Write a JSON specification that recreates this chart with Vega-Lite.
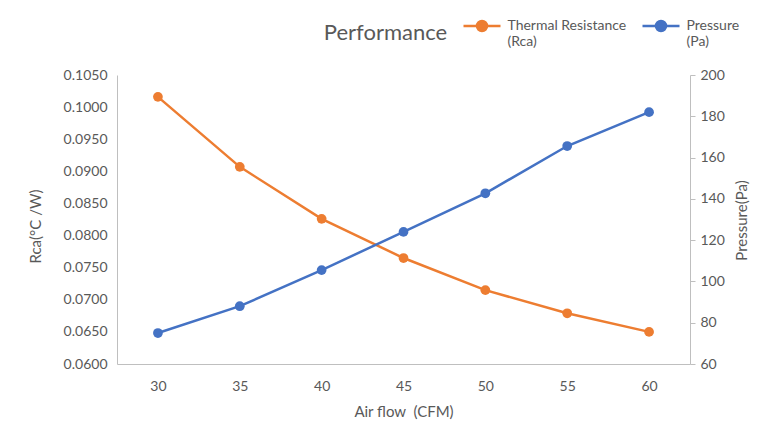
{
  "$schema": "https://vega.github.io/schema/vega-lite/v6.json",
  "width": 573,
  "height": 289,
  "autosize": {"type": "none"},
  "padding": {"left": 117, "top": 75, "right": 84, "bottom": 72},
  "background": "white",
  "config": {
    "font": "Lato",
    "view": {"stroke": null},
    "axis": {"labelColor": "#595959", "titleColor": "#595959", "labelFont": "Lato", "titleFont": "Lato", "labelFontSize": 14, "titleFontSize": 15, "titleFontWeight": "normal", "domainColor": "#BFBFBF", "tickColor": "#BFBFBF", "grid": false},
    "legend": {"labelFont": "Lato", "labelFontSize": 14, "labelColor": "#595959"}
  },
  "title": {"text": "Performance", "fontSize": 22, "fontWeight": "normal", "color": "#595959", "font": "Lato", "anchor": "middle", "dx": -18, "offset": 0, "dy": 26},
  "data": {
    "values": [
      {"airflow": 30, "series": "Thermal Resistance (Rca)", "value": 0.1016},
      {"airflow": 35, "series": "Thermal Resistance (Rca)", "value": 0.0907},
      {"airflow": 40, "series": "Thermal Resistance (Rca)", "value": 0.0826},
      {"airflow": 45, "series": "Thermal Resistance (Rca)", "value": 0.0765},
      {"airflow": 50, "series": "Thermal Resistance (Rca)", "value": 0.0715},
      {"airflow": 55, "series": "Thermal Resistance (Rca)", "value": 0.0679},
      {"airflow": 60, "series": "Thermal Resistance (Rca)", "value": 0.0650},
      {"airflow": 30, "series": "Pressure (Pa)", "value": 75},
      {"airflow": 35, "series": "Pressure (Pa)", "value": 88},
      {"airflow": 40, "series": "Pressure (Pa)", "value": 105.5},
      {"airflow": 45, "series": "Pressure (Pa)", "value": 124},
      {"airflow": 50, "series": "Pressure (Pa)", "value": 142.7},
      {"airflow": 55, "series": "Pressure (Pa)", "value": 165.6},
      {"airflow": 60, "series": "Pressure (Pa)", "value": 182}
    ]
  },
  "encoding": {
    "x": {"field": "airflow", "type": "ordinal", "scale": {"type": "point", "padding": 0.5},
      "axis": {"title": "Air flow\u00a0\u00a0(CFM)", "labelAngle": 0, "ticks": false, "labelPadding": 15, "titleY": 47, "titleBaseline": "middle"}},
    "color": {"field": "series", "type": "nominal",
      "scale": {"domain": ["Thermal Resistance (Rca)", "Pressure (Pa)"], "range": ["#ED7D31", "#4472C4"]},
      "legend": {"title": null, "orient": "none", "direction": "horizontal", "legendX": 358, "legendY": -56,
        "symbolType": "M-3.7,0H3.7M-1,0A1,1,0,1,0,1,0A1,1,0,1,0,-1,0Z", "symbolSize": 100, "symbolStrokeWidth": 2.5,
        "labelOffset": 18.5, "columnPadding": 10, "labelBaseline": "middle",
        "labelExpr": "datum.label == 'Pressure (Pa)' ? ['Pressure', '(Pa)'] : ['Thermal Resistance', '\u00a0(Rca)']"}}
  },
  "layer": [
    {
      "transform": [{"filter": "datum.series == 'Thermal Resistance (Rca)'"}],
      "mark": {"type": "line", "strokeWidth": 2.5, "point": {"filled": true, "size": 95, "opacity": 1}},
      "encoding": {
        "y": {"field": "value", "type": "quantitative", "scale": {"domain": [0.06, 0.105], "nice": false, "zero": false},
          "axis": {"title": "Rca(°C /W)", "format": ".4f", "values": [0.06, 0.065, 0.07, 0.075, 0.08, 0.085, 0.09, 0.095, 0.1, 0.105], "ticks": false, "labelPadding": 10, "titleX": -82, "titleY": 151, "titleBaseline": "middle", "titleAngle": 270}}
      }
    },
    {
      "transform": [{"filter": "datum.series == 'Pressure (Pa)'"}],
      "mark": {"type": "line", "strokeWidth": 2.5, "point": {"filled": true, "size": 95, "opacity": 1}},
      "encoding": {
        "y": {"field": "value", "type": "quantitative", "scale": {"domain": [60, 200], "nice": false, "zero": false},
          "axis": {"orient": "right", "title": "Pressure(Pa)", "values": [60, 80, 100, 120, 140, 160, 180, 200], "ticks": true, "tickSize": 5, "labelPadding": 5, "titleX": 51, "titleY": 145, "titleBaseline": "middle", "titleAngle": 270}}
      }
    }
  ],
  "resolve": {"scale": {"y": "independent"}}
}
